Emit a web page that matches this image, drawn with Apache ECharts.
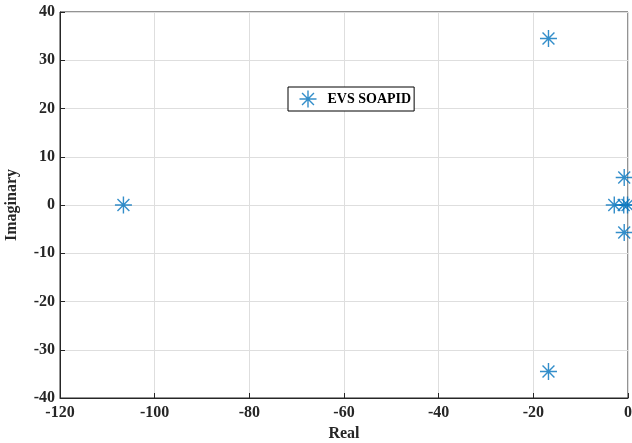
<!DOCTYPE html>
<html><head><meta charset="utf-8">
<script src="https://cdn.jsdelivr.net/npm/echarts@6/dist/echarts.min.js"></script>
<style>html,body{margin:0;padding:0;background:#fff}#c{width:632px;height:443px}</style>
</head><body><div id="c"></div>
<script>
const seriesName = 'EVS SOAPID';
const realParts = [-106.6, -16.8, -16.8, -0.8, -0.8, -2.9, -0.9, -0.1];
const imagParts = [0, 34.5, -34.5, 5.7, -5.7, 0, 0, 0];
const xTicks = [-120, -100, -80, -60, -40, -20, 0];
const yTicks = [-40, -30, -20, -10, 0, 10, 20, 30, 40];

const star = 'path://M0,-1L0,1M-1,0L1,0M-0.7,-0.7L0.7,0.7M-0.7,0.7L0.7,-0.7';
const font = 'Liberation Serif, Times New Roman, serif';
const chart = echarts.init(document.getElementById('c'));
chart.setOption({
  animation: false,
  backgroundColor: '#fff',
  grid: {left: 60, right: 4, top: 12, bottom: 45, show: true, borderColor: '#262626', borderWidth: 1,
         containLabel: false, outerBoundsMode: 'none'},
  legend: {
    left: 288, top: 87, itemWidth: 17, itemHeight: 17, itemGap: 12,
    borderColor: '#000', borderWidth: 1, padding: [1, 3, 1, 9],
    backgroundColor: '#fff',
    textStyle: {fontFamily: font, fontWeight: 'bold', fontSize: 14, color: '#000', padding: [0, 0, 0, 6]},
    data: [{name: seriesName, icon: star, itemStyle: {color: 'none', borderColor: '#0072BD', borderWidth: 1.4}}]
  },
  xAxis: {
    type: 'value', min: xTicks[0], max: xTicks[xTicks.length - 1], interval: 20,
    name: 'Real', nameLocation: 'middle', nameGap: 28,
    nameTextStyle: {fontFamily: font, fontWeight: 'bold', fontSize: 16, color: '#262626'},
    axisLine: {onZero: false, lineStyle: {color: '#262626'}},
    axisTick: {inside: true, length: 5, lineStyle: {color: '#262626'}},
    axisLabel: {fontFamily: font, fontWeight: 'bold', fontSize: 16, color: '#262626', margin: 7},
    splitLine: {show: true, lineStyle: {color: '#dedede', width: 1}}
  },
  yAxis: {
    type: 'value', min: yTicks[0], max: yTicks[yTicks.length - 1], interval: 10,
    name: 'Imaginary', nameLocation: 'middle', nameGap: 40,
    nameTextStyle: {fontFamily: font, fontWeight: 'bold', fontSize: 16, color: '#262626'},
    axisLine: {onZero: false, lineStyle: {color: '#262626'}},
    axisTick: {inside: true, length: 5, lineStyle: {color: '#262626'}},
    axisLabel: {fontFamily: font, fontWeight: 'bold', fontSize: 16, color: '#262626', margin: 5},
    splitLine: {show: true, lineStyle: {color: '#dedede', width: 1}}
  },
  series: [{
    name: seriesName, type: 'scatter', symbol: star, symbolSize: 17, clip: false,
    itemStyle: {color: 'none', borderColor: '#0072BD', borderWidth: 1.4},
    data: realParts.map((r, i) => [r, imagParts[i]])
  }]
});
</script></body></html>
